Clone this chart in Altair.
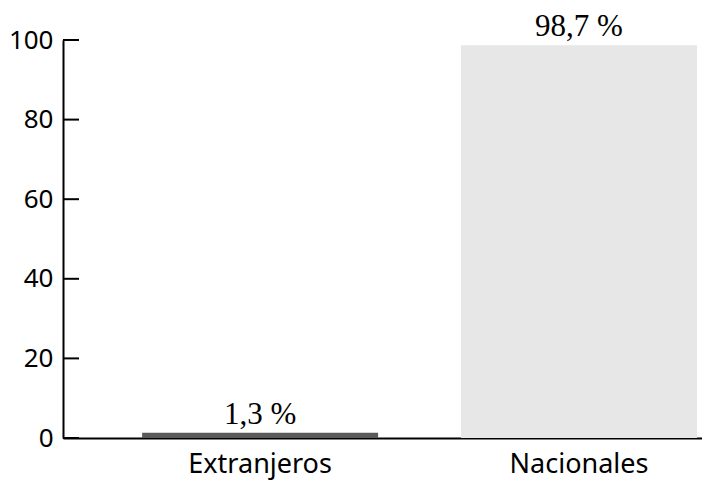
import altair as alt
import pandas as pd

categories = ["Extranjeros", "Nacionales"]
values = [1.3, 98.7]
labels = ["1,3 %", "98,7 %"]
colors = ["#5a5a5a", "#e7e7e7"]
y_ticks = [0, 20, 40, 60, 80, 100]

df = pd.DataFrame({"cat": categories, "val": values, "lab": labels, "col": colors})
ticks_df = pd.DataFrame({"t": y_ticks})

xscale = alt.Scale(domain=categories, paddingInner=0.26, paddingOuter=0.132, align=0.94)
yscale = alt.Scale(domain=[0, 100])

bars = alt.Chart(df).mark_bar().encode(
    x=alt.X("cat:N", scale=xscale, sort=categories,
            axis=alt.Axis(title=None, labelAngle=0, ticks=False, domainColor="black",
                          domainWidth=2, labelFont="Noto Sans", labelFontSize=27,
                          labelColor="black", labelPadding=13)),
    y=alt.Y("val:Q", scale=yscale,
            axis=alt.Axis(title=None, values=y_ticks, ticks=False, grid=False,
                          domainColor="black", domainWidth=2, labelFont="Noto Sans",
                          labelFontSize=26, labelColor="black", labelPadding=10)),
    color=alt.Color("col:N", scale=None),
)

text = alt.Chart(df).mark_text(font="Liberation Serif", fontSize=31, baseline="alphabetic",
                               dy=-9, color="black").encode(
    x=alt.X("cat:N", scale=xscale, sort=categories),
    y=alt.Y("val:Q", scale=yscale),
    text="lab:N",
)

tick_marks = alt.Chart(ticks_df).mark_rule(color="black", strokeWidth=2).encode(
    y=alt.Y("t:Q", scale=yscale),
    x=alt.value(0),
    x2=alt.value(16),
)

chart = alt.layer(bars, tick_marks, text).properties(
    width=639, height=398,
    autosize=alt.AutoSizeParams(type="none"),
    padding={"left": 55, "top": 32, "right": 0, "bottom": 48},
).configure_view(stroke=None)

chart.save("out.html", embed_options={"renderer": "svg", "actions": False})
